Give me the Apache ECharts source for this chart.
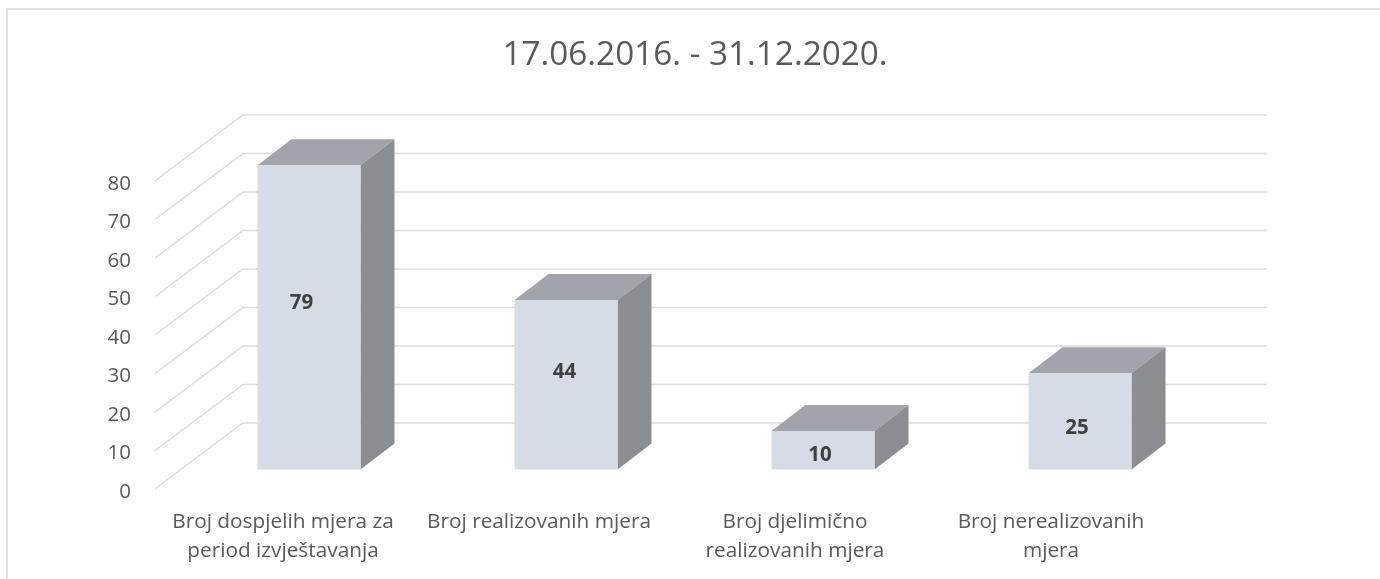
<!DOCTYPE html>
<html>
  <head>
    <meta charset="utf-8" />
    <script src="https://cdn.jsdelivr.net/npm/echarts@6/dist/echarts.min.js"></script>
    <style>
      html, body { margin: 0; padding: 0; background: #fff; }
    </style>
  </head>
  <body>
    <div id="main" style="width: 1380px;height:579px;"></div>
    <script type="text/javascript">
      var titleText = '17.06.2016. - 31.12.2020.';
      var categories = [
        'Broj dospjelih mjera za\nperiod izvještavanja',
        'Broj realizovanih mjera',
        'Broj djelimično\nrealizovanih mjera',
        'Broj nerealizovanih\nmjera'
      ];
      var values = [79, 44, 10, 25];
      var yTicks = [0, 10, 20, 30, 40, 50, 60, 70, 80];

      // fake 3d: how far the back wall and the bars sit from the front edge
      var wallDx = 88, wallDy = 66;
      var barShiftX = 26, barShiftY = 19.5;
      var barDepthX = 34, barDepthY = 26;
      var barWidth = 103;
      // data labels are not centred in the original, moved by hand
      var labelNudge = [[-7.5, -14], [-1.5, -13], [-3, 4.5], [-3, 7]];

      var font = '"Open Sans", sans-serif';
      var myChart = echarts.init(document.getElementById('main'));

      function renderWall(params, api) {
        var p = api.coord([0, api.value(0)]);
        var left = params.coordSys.x;
        var right = left + params.coordSys.width;
        return {
          type: 'polyline',
          shape: { points: [[left, p[1]], [left + wallDx, p[1] - wallDy], [right + wallDx, p[1] - wallDy]] },
          style: { fill: 'none', stroke: '#dcdcdc', lineWidth: 1.5 }
        };
      }

      function renderBar(params, api) {
        var i = api.value(0);
        var top = api.coord([i, api.value(1)]);
        var base = api.coord([i, 0]);
        // bars drift about 1px per category against the axis in the original
        var x0 = top[0] + barShiftX + i - barWidth / 2;
        var x1 = x0 + barWidth;
        var y0 = top[1] - barShiftY;
        var y1 = base[1] - barShiftY;
        var nudge = labelNudge[i];
        return {
          type: 'group',
          children: [
            {
              type: 'polygon',
              shape: { points: [[x0, y0], [x0 + barDepthX, y0 - barDepthY], [x1 + barDepthX, y0 - barDepthY], [x1, y0]] },
              style: { fill: '#a1a4ab' }
            },
            {
              type: 'polygon',
              shape: { points: [[x1, y0], [x1 + barDepthX, y0 - barDepthY], [x1 + barDepthX, y1 - barDepthY], [x1, y1]] },
              style: { fill: '#8a8d91' }
            },
            {
              type: 'rect',
              shape: { x: x0, y: y0, width: barWidth, height: y1 - y0 },
              style: { fill: '#d6dce5' }
            },
            {
              type: 'text',
              style: {
                x: (x0 + x1) / 2 + nudge[0],
                y: (y0 + y1) / 2 + nudge[1],
                text: String(api.value(1)),
                fill: '#404040',
                font: 'bold 20.5px ' + font,
                align: 'center',
                verticalAlign: 'middle'
              }
            }
          ]
        };
      }

      var option = {
        animation: false,
        backgroundColor: '#fff',
        title: {
          text: titleText,
          left: 690,
          top: 34,
          textAlign: 'center',
          textStyle: { fontFamily: font, fontSize: 33.3, fontWeight: 'normal', color: '#595959' }
        },
        // outer frame of the chart, only top and left are visible
        graphic: [{
          type: 'polyline',
          silent: true,
          shape: { points: [[7, 579], [7, 9], [1380, 9]] },
          style: { fill: 'none', stroke: '#d9d9d9', lineWidth: 1.5 }
        }],
        grid: { left: 155, right: 201, top: 181, bottom: 90 },
        xAxis: {
          type: 'category',
          data: categories,
          axisLine: { show: false },
          axisTick: { show: false },
          axisLabel: {
            interval: 0,
            margin: 19,
            lineHeight: 29,
            fontFamily: font,
            fontSize: 20.8,
            color: '#595959'
          }
        },
        yAxis: {
          type: 'value',
          min: 0,
          max: 80,
          interval: 10,
          axisLine: { show: false },
          axisTick: { show: false },
          splitLine: { show: false },
          axisLabel: {
            margin: 24,
            verticalAlign: 'top',
            lineHeight: 6,
            fontFamily: font,
            fontSize: 20.5,
            color: '#595959'
          }
        },
        series: [
          {
            type: 'custom',
            clip: false,
            silent: true,
            z: 1,
            renderItem: renderWall,
            encode: { y: 0 },
            data: yTicks.map(function (t) { return [t]; })
          },
          {
            type: 'custom',
            clip: false,
            silent: true,
            z: 2,
            renderItem: renderBar,
            encode: { x: 0, y: 1 },
            data: values.map(function (v, i) { return [i, v]; })
          }
        ]
      };
      myChart.setOption(option);
    </script>
  </body>
</html>
